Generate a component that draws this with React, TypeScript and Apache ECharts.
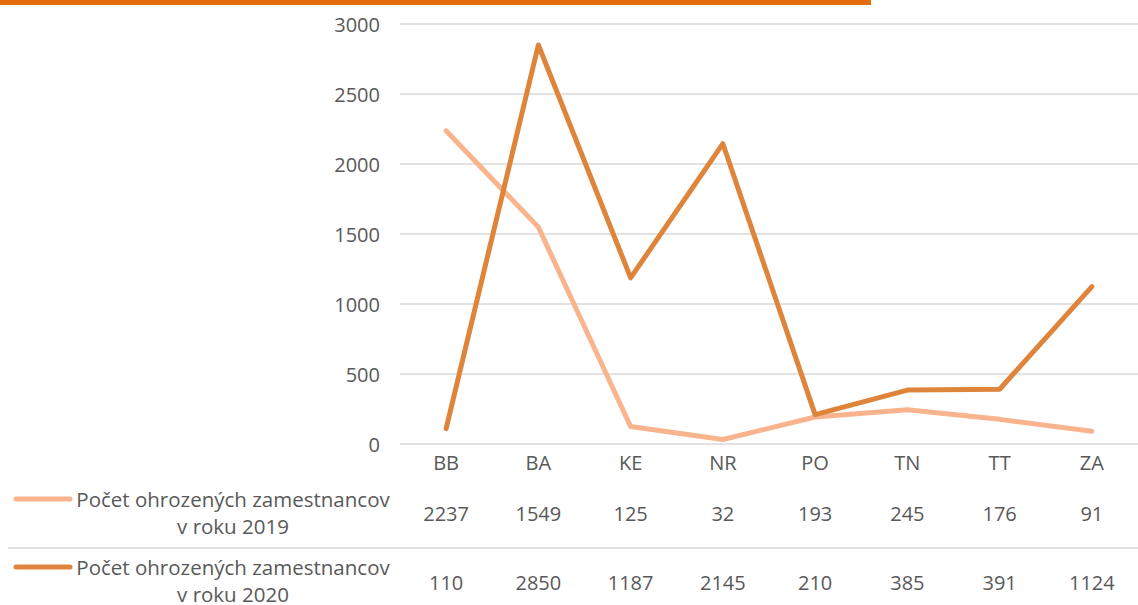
import React, { useEffect, useRef } from "react";
import * as echarts from "echarts";

const categories = ["BB", "BA", "KE", "NR", "PO", "TN", "TT", "ZA"];
const values2019 = [2237, 1549, 125, 32, 193, 245, 176, 91];
const values2020 = [110, 2850, 1187, 2145, 210, 385, 391, 1124];
const seriesNames = [
  "Počet ohrozených zamestnancov\nv roku 2019",
  "Počet ohrozených zamestnancov\nv roku 2020",
];
const colors = ["#F9B48E", "#DF853B"];
const FONT = "Open Sans";
const FS = 20;
const TXT = "#595959";

export default function App() {
  const ref = useRef<HTMLDivElement>(null);
  useEffect(() => {
    if (!ref.current) return;
    const chart = echarts.init(ref.current, undefined, { renderer: "svg" });
    const labelStyle = { fontFamily: FONT, fontSize: FS, color: TXT, lineHeight: 22 };
    const tableAxis = (data: number[], offset: number) => ({
      type: "category",
      gridIndex: 0,
      position: "bottom",
      offset,
      data: data.map(String),
      boundaryGap: true,
      axisLine: { show: false },
      axisTick: { show: false },
      splitLine: { show: false },
      axisLabel: { ...labelStyle, margin: 7, interval: 0 },
    });
    chart.setOption({
      animation: false,
      textStyle: { fontFamily: FONT },
      grid: { left: 400, right: 0, top: 24, bottom: 161, containLabel: false },
      xAxis: [
        {
          type: "category",
          data: categories,
          boundaryGap: true,
          axisLine: { show: false },
          axisTick: { show: false },
          axisLabel: { ...labelStyle, margin: 7, interval: 0 },
        },
        tableAxis(values2019, 51),
        tableAxis(values2020, 120),
      ],
      yAxis: {
        type: "value",
        min: 0,
        max: 3000,
        interval: 500,
        axisLine: { show: false },
        axisTick: { show: false },
        axisLabel: {
          fontFamily: FONT,
          fontSize: FS,
          color: TXT,
          margin: 20,
          formatter: (v: number) => String(v),
        },
        splitLine: { lineStyle: { color: "#D9D9D9", width: 1.5 } },
      },
      series: [
        {
          name: "2019",
          type: "line",
          data: values2019,
          xAxisIndex: 0,
          symbol: "none",
          lineStyle: { color: colors[0], width: 5, cap: "round", join: "round" },
          z: 2,
        },
        {
          name: "2020",
          type: "line",
          data: values2020,
          xAxisIndex: 0,
          symbol: "none",
          lineStyle: { color: colors[1], width: 5, cap: "round", join: "round" },
          z: 3,
        },
      ],
      graphic: [
        { type: "rect", shape: { x: 0, y: 0, width: 871, height: 5 }, style: { fill: "#E46C0A" } },
        {
          type: "line",
          shape: { x1: 8, y1: 548, x2: 1138, y2: 548 },
          style: { stroke: "#D9D9D9", lineWidth: 1.5 },
        },
        {
          type: "line",
          shape: { x1: 16, y1: 499, x2: 70, y2: 499 },
          style: { stroke: colors[0], lineWidth: 5, lineCap: "round" },
        },
        {
          type: "line",
          shape: { x1: 16, y1: 567, x2: 70, y2: 567 },
          style: { stroke: colors[1], lineWidth: 5, lineCap: "round" },
        },
        {
          type: "text",
          x: 233,
          y: 512.5,
          style: {
            text: seriesNames[0],
            fill: TXT,
            fontSize: 20.5,
            fontFamily: FONT,
            lineHeight: 27,
            align: "center",
            verticalAlign: "middle",
          },
        },
        {
          type: "text",
          x: 233,
          y: 580,
          style: {
            text: seriesNames[1],
            fill: TXT,
            fontSize: 20.5,
            fontFamily: FONT,
            lineHeight: 27,
            align: "center",
            verticalAlign: "middle",
          },
        },
      ],
    });
    return () => chart.dispose();
  }, []);
  return (
    <div
      ref={ref}
      style={{ position: "fixed", left: 0, top: 0, width: 1138, height: 605, background: "#fff" }}
    />
  );
}
